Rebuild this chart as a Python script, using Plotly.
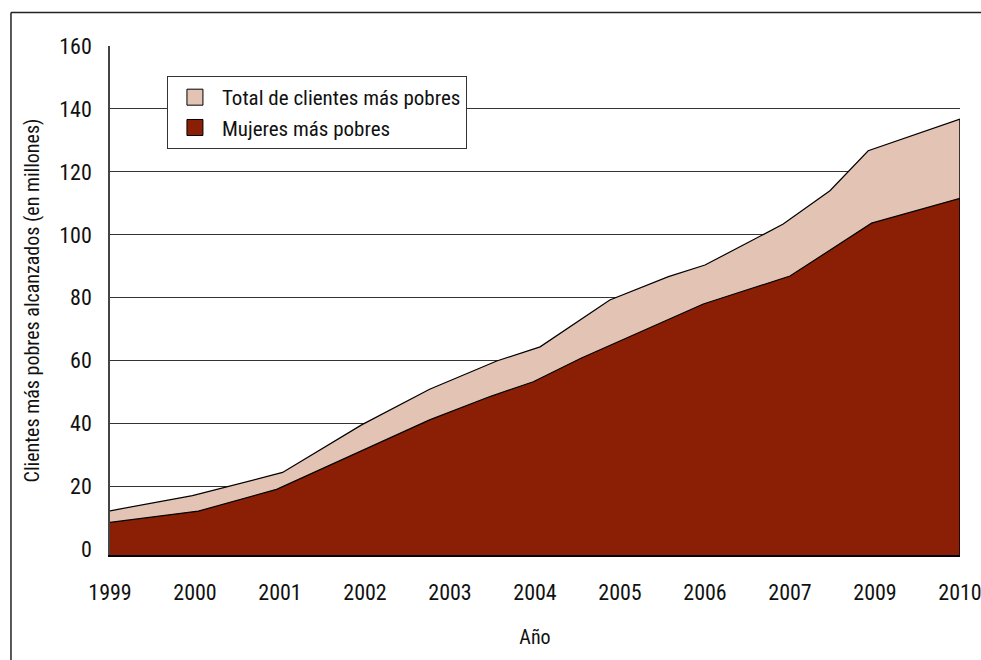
import plotly.graph_objects as go

# Tick labels (categorical years, evenly spaced)
years = ["1999", "2000", "2001", "2002", "2003", "2004", "2005", "2006", "2007", "2009", "2010"]
tick_pos = list(range(len(years)))

# Total de clientes más pobres (millones) -- positions along the year axis
total_x = [0, 0.97, 2.03, 2.96, 3.76, 4.55, 5.06, 5.88, 6.57, 7.0, 7.92, 8.47, 8.92, 10]
total_y = [12.3, 17.1, 24.5, 39.6, 50.9, 59.9, 64.4, 79.3, 86.7, 90.4, 103.4, 114.0, 126.7, 136.8]

# Mujeres más pobres (millones)
mujeres_x = [0, 1.04, 1.96, 3.76, 4.47, 4.98, 5.54, 6.98, 8.0, 8.96, 10]
mujeres_y = [8.6, 12.2, 19.1, 41.2, 48.6, 53.3, 60.8, 78.0, 86.9, 103.7, 111.6]

YMIN = -1.75
YMAX = 160
FONT = "Roboto Condensed, Liberation Sans Narrow, Roboto, sans-serif"
DARK = "#8A1F05"
LIGHT = "#E3C4B4"

fig = go.Figure()

x_lo, x_hi = tick_pos[0], tick_pos[-1]

# baseline for total area
fig.add_trace(go.Scatter(x=[x_lo, x_hi], y=[YMIN, YMIN], mode="lines",
                         line=dict(width=0), showlegend=False, hoverinfo="skip"))
fig.add_trace(go.Scatter(x=total_x, y=total_y, mode="lines", fill="tonexty",
                         fillcolor=LIGHT, line=dict(color="black", width=1.2),
                         showlegend=False, name="Total de clientes más pobres"))
# baseline for women area
fig.add_trace(go.Scatter(x=[x_lo, x_hi], y=[YMIN, YMIN], mode="lines",
                         line=dict(width=0), showlegend=False, hoverinfo="skip"))
fig.add_trace(go.Scatter(x=mujeres_x, y=mujeres_y, mode="lines", fill="tonexty",
                         fillcolor=DARK, line=dict(color="black", width=1.2),
                         showlegend=False, name="Mujeres más pobres"))

# legend entries
fig.add_trace(go.Scatter(x=[None], y=[None], mode="markers", name="Total de clientes más pobres",
                         legendgroup="a",
                         marker=dict(symbol="square", size=16, color=LIGHT,
                                     line=dict(color="black", width=1))))
fig.add_trace(go.Scatter(x=[None], y=[None], mode="markers", name="Mujeres más pobres",
                         legendgroup="b",
                         marker=dict(symbol="square", size=16, color=DARK,
                                     line=dict(color="black", width=1))))

# right edge of the areas
fig.add_shape(type="line", xref="x", yref="y", x0=total_x[-1], x1=total_x[-1],
              y0=YMIN, y1=total_y[-1], line=dict(color="black", width=1.5))

# outer frame (left and top)
fig.add_shape(type="line", xref="paper", yref="paper", x0=-0.1165, x1=-0.1165,
              y0=-0.3, y1=1.0658, line=dict(color="#222", width=1.5))
fig.add_shape(type="line", xref="paper", yref="paper", x0=-0.1165, x1=1.1,
              y0=1.0658, y1=1.0658, line=dict(color="#222", width=1.5))

fig.update_layout(
    width=981, height=660,
    margin=dict(l=110, r=21, t=46, b=105),
    paper_bgcolor="white", plot_bgcolor="white",
    font=dict(family=FONT, size=22, color="#111"),
    legend=dict(x=0.067, y=0.941, xanchor="left", yanchor="top", traceorder="normal",
                bordercolor="#333", borderwidth=1, bgcolor="white",
                font=dict(family=FONT, size=21, color="#111"),
                tracegroupgap=11, itemsizing="trace", itemwidth=44),
    xaxis=dict(range=[x_lo, x_hi], tickmode="array", tickvals=tick_pos, ticktext=years,
               showgrid=False, zeroline=False, showline=True, linecolor="black", linewidth=2,
               ticks="", ticklabelstandoff=17, ticklabeloverflow="allow", automargin=False,
               title=dict(text="Año", font=dict(family=FONT, size=20), standoff=26)),
    yaxis=dict(range=[YMIN, YMAX], tickmode="array", tickvals=list(range(0, 161, 20)),
               showgrid=True, gridcolor="#333", gridwidth=1.2, zeroline=False, automargin=False,
               showline=True, linecolor="#444", linewidth=1.5, ticks="", ticklabelstandoff=12,
               title=dict(text="Clientes más pobres alcanzados (en millones)",
                          font=dict(family=FONT, size=20), standoff=14)),
)

fig.write_html("out.html")
